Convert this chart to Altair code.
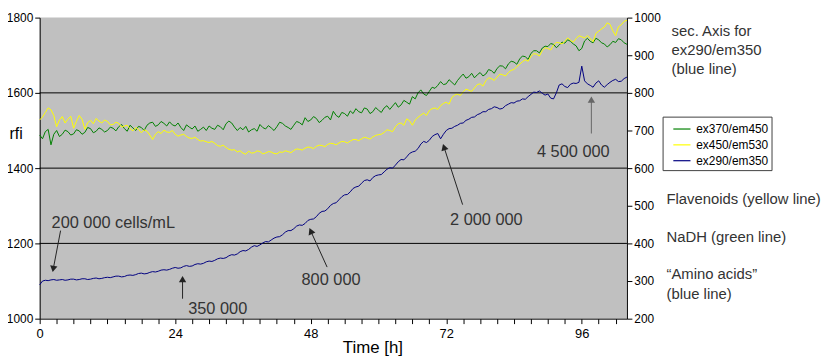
import altair as alt
import pandas as pd

# ---------------- data (sampled every half hour, 0 .. 104 h) ----------------
hours = [i / 2 for i in range(209)]

series_names = ["ex370/em450", "ex450/em530", "ex290/em350"]
series_colors = ["#008000", "#FFFF00", "#000080"]

green_vals = [
    1488, 1478, 1497, 1503, 1462, 1490, 1500, 1484, 1490, 1501,
    1497, 1488, 1491, 1502, 1499, 1490, 1495, 1508, 1505, 1494,
    1498, 1507, 1503, 1496, 1500, 1509, 1506, 1499, 1510, 1516,
    1505, 1498, 1514, 1507, 1500, 1511, 1508, 1500, 1514, 1520,
    1522, 1511, 1515, 1524, 1519, 1512, 1523, 1515, 1512, 1520,
    1508, 1500, 1515, 1509, 1504, 1512, 1498, 1503, 1509, 1500,
    1512, 1506, 1503, 1514, 1510, 1502, 1518, 1525, 1520, 1509,
    1500, 1508, 1502, 1511, 1496, 1502, 1505, 1498, 1516, 1508,
    1504, 1513, 1507, 1500, 1510, 1522, 1519, 1512, 1508, 1503,
    1514, 1524, 1521, 1515, 1534, 1524, 1528, 1537, 1532, 1521,
    1527, 1535, 1538, 1528, 1551, 1540, 1535, 1548, 1545, 1538,
    1552, 1545, 1558, 1550, 1547, 1560, 1557, 1545, 1550, 1561,
    1554, 1548, 1560, 1566, 1556, 1565, 1574, 1562, 1568, 1580,
    1575, 1570, 1590, 1584, 1600, 1608, 1597, 1593, 1604, 1615,
    1612, 1620, 1630, 1622, 1624, 1635, 1628, 1621, 1633, 1642,
    1650, 1639, 1643, 1652, 1640, 1648, 1654, 1645, 1650, 1662,
    1659, 1652, 1665, 1672, 1671, 1664, 1677, 1684, 1682, 1676,
    1690, 1698, 1696, 1689, 1705, 1712, 1712, 1706, 1719, 1724,
    1723, 1731, 1729, 1720, 1727, 1735, 1732, 1741, 1737, 1730,
    1725, 1712, 1718, 1738, 1745, 1737, 1733, 1745, 1741, 1733,
    1730, 1722, 1728, 1737, 1734, 1744, 1741, 1733, 1729]

yellow_vals = [
    1528, 1536, 1548, 1560, 1555, 1540, 1510, 1528, 1537, 1520,
    1530, 1538, 1506, 1524, 1540, 1530, 1503, 1521, 1527, 1518,
    1532, 1525, 1520, 1528, 1524, 1515, 1516, 1522, 1519, 1509,
    1512, 1514, 1505, 1499, 1508, 1503, 1494, 1502, 1498, 1488,
    1476, 1490, 1497, 1492, 1501, 1496, 1495, 1500, 1490, 1485,
    1488, 1490, 1484, 1480, 1479, 1482, 1476, 1472, 1473, 1470,
    1468, 1471, 1466, 1460, 1458, 1461, 1455, 1450, 1448, 1449,
    1443, 1446, 1440, 1437, 1445, 1440, 1441, 1446, 1444, 1438,
    1440, 1444, 1443, 1439, 1438, 1443, 1442, 1446, 1444, 1441,
    1447, 1451, 1450, 1448, 1453, 1456, 1455, 1452, 1458, 1461,
    1460, 1457, 1463, 1466, 1465, 1462, 1467, 1471, 1470, 1467,
    1472, 1476, 1476, 1473, 1478, 1482, 1480, 1477, 1483, 1487,
    1489, 1490, 1495, 1502, 1500, 1497, 1510, 1518, 1520, 1514,
    1531, 1526, 1514, 1528, 1535, 1541, 1546, 1540, 1553, 1558,
    1560, 1556, 1566, 1572, 1575, 1570, 1588, 1594, 1597, 1593,
    1603, 1610, 1607, 1604, 1613, 1622, 1624, 1618, 1632, 1640,
    1638, 1633, 1642, 1650, 1648, 1645, 1654, 1660, 1662, 1670,
    1676, 1683, 1688, 1684, 1697, 1704, 1703, 1698, 1712, 1720,
    1718, 1714, 1727, 1734, 1733, 1730, 1737, 1746, 1740, 1735,
    1744, 1752, 1749, 1746, 1752, 1745, 1736, 1758, 1764, 1770,
    1775, 1786, 1782, 1765, 1752, 1776, 1781, 1790, 1793]

blue_vals = [
    290, 300, 302, 301, 303, 304, 302, 303, 304, 302,
    303, 305, 305, 303, 304, 306, 306, 304, 305, 307,
    308, 306, 307, 309, 310, 309, 311, 313, 313, 311,
    312, 315, 316, 315, 317, 320, 321, 319, 320, 323,
    325, 324, 326, 329, 330, 329, 331, 334, 336, 334,
    335, 339, 341, 339, 340, 344, 346, 345, 347, 351,
    353, 352, 355, 359, 361, 360, 362, 367, 370, 369,
    372, 378, 381, 380, 384, 390, 394, 392, 396, 401,
    405, 404, 409, 414, 417, 418, 423, 430, 434, 434,
    439, 446, 449, 448, 453, 461, 464, 465, 471, 480,
    485, 486, 492, 501, 506, 508, 516, 524, 529, 530,
    537, 546, 550, 552, 560, 567, 569, 566, 575, 580,
    582, 583, 590, 597, 601, 600, 608, 617, 623, 622,
    630, 639, 643, 645, 652, 664, 671, 668, 674, 684,
    689, 692, 678, 690, 700, 705, 706, 711, 714, 719,
    720, 727, 730, 735, 736, 742, 745, 750, 750, 756,
    758, 763, 761, 757, 759, 766, 770, 774, 773, 778,
    779, 784, 783, 790, 796, 802, 801, 805, 799, 794,
    797, 786, 784, 800, 821, 824, 817, 814, 823, 826,
    825, 828, 871, 832, 824, 820, 815, 826, 832, 821,
    815, 822, 828, 833, 836, 830, 831, 838, 842]

grid_values = [1200, 1400, 1600]
left_ticks = [1000, 1200, 1400, 1600, 1800]
right_ticks = [200, 300, 400, 500, 600, 700, 800, 900, 1000]
x_ticks = list(range(0, 105, 3))

# annotations (data units: hours / left-axis rfi)
ann_text = ["200 000 cells/mL", "350 000", "800 000", "2 000 000", "4 500 000"]
ann_x = [2.1, 26.3, 51.6, 79.1, 94.5]
ann_y = [1255, 1026, 1103, 1263, 1442]
ann_align = ["left", "left", "center", "center", "center"]

arrow_x1 = [3.7, 25.3, 50.9, 74.9, 97.7]
arrow_y1 = [1234, 1053, 1137, 1303, 1492]
arrow_x2 = [2.4, 25.3, 48.0, 71.6, 97.7]
arrow_y2 = [1132, 1105, 1233, 1456, 1582]
arrow_angle = [190, 0, 336, 342, 0]
arrow_color = ["#222222", "#222222", "#222222", "#222222", "#666666"]

side_text = ["sec. Axis for", "ex290/em350", "(blue line)",
             "Flavenoids (yellow line)", "NaDH (green line)",
             "\u201cAmino acids\u201d", "(blue line)"]
side_x = [111.9, 111.9, 111.9, 111.0, 111.0, 111.0, 111.0]
side_y = [1763, 1713, 1663, 1318, 1218, 1118, 1066]

# ---------------- tables ----------------
left_df = pd.DataFrame({
    "hour": hours * 2,
    "value": green_vals + yellow_vals,
    "series": [series_names[0]] * len(hours) + [series_names[1]] * len(hours),
})
blue_df = pd.DataFrame({"hour": hours, "value": blue_vals,
                        "series": [series_names[2]] * len(hours)})
grid_df = pd.DataFrame({"v": grid_values})
ann_df = pd.DataFrame({"text": ann_text, "x": ann_x, "y": ann_y, "align": ann_align})
arrow_df = pd.DataFrame({"x1": arrow_x1, "y1": arrow_y1, "x2": arrow_x2,
                         "y2": arrow_y2, "angle": arrow_angle, "color": arrow_color})
side_df = pd.DataFrame({"text": side_text, "x": side_x, "y": side_y})

NARROW = "Liberation Sans Narrow, Liberation Sans, Arial"
FONT = "Liberation Sans, Arial"

x_scale = alt.Scale(domain=[0, 104], nice=False, zero=False)
y_left = alt.Scale(domain=[1000, 1800], nice=False, zero=False)
y_right = alt.Scale(domain=[200, 1000], nice=False, zero=False)
color_scale = alt.Scale(domain=series_names, range=series_colors)

# the same x axis definition is given to every layer so the shared axis merges cleanly
x_axis = alt.Axis(orient="bottom", values=x_ticks,
                  labelExpr="datum.value % 24 === 0 ? datum.label : ''",
                  grid=False, tickSize=5, tickColor="black", domainColor="black",
                  labelFont=NARROW, labelFontSize=13, labelColor="black",
                  labelPadding=4, labelFlush=False, labelOverlap=False,
                  title="Time [h]", titleFont=NARROW, titleFontSize=17,
                  titleFontWeight="normal", titleColor="black",
                  titleX=336, titleY=29, titleAlign="center", titleBaseline="middle")

left_axis = alt.Axis(orient="left", values=left_ticks, format="d", grid=False,
                     tickSize=5, tickColor="black",
                     domainColor="black", labelFont=NARROW, labelFontSize=12,
                     labelColor="black", labelPadding=2, labelFlush=False,
                     title="rfi", titleAngle=0, titleFont=FONT, titleFontSize=16,
                     titleFontWeight="normal", titleColor="black",
                     titleX=-31, titleY=117, titleAlign="left", titleBaseline="middle")

right_axis = alt.Axis(orient="right", values=right_ticks, format="d", grid=False,
                      tickSize=5, tickColor="black", domainColor="black",
                      labelFont=NARROW, labelFontSize=12, labelColor="black",
                      labelPadding=2, labelFlush=False, title=None)

legend = alt.Legend(title=None, orient="none", legendX=629, legendY=100,
                    fillColor="white", strokeColor="#404040", padding=3,
                    symbolOffset=7, symbolType="stroke", symbolSize=300,
                    symbolStrokeWidth=1.2, rowPadding=0, labelFont=FONT,
                    labelFontSize=12, labelColor="black", labelOffset=5)


def X(field):
    return alt.X(field, scale=x_scale, axis=x_axis)


grid = alt.Chart(grid_df).mark_rule(color="black", strokeWidth=1).encode(
    y=alt.Y("v:Q", scale=y_left, axis=None))

left_lines = alt.Chart(left_df).mark_line(strokeWidth=1).encode(
    x=X("hour:Q"),
    y=alt.Y("value:Q", scale=y_left, axis=left_axis),
    color=alt.Color("series:N", scale=color_scale, legend=legend),
    detail="series:N",
)

blue_line = alt.Chart(blue_df).mark_line(strokeWidth=1).encode(
    x=X("hour:Q"),
    y=alt.Y("value:Q", scale=y_right, axis=right_axis),
    color=alt.Color("series:N", scale=color_scale, legend=legend),
)

arrows = alt.Chart(arrow_df).mark_rule(strokeWidth=1).encode(
    x=X("x1:Q"), x2="x2:Q",
    y=alt.Y("y1:Q", scale=y_left, axis=None), y2="y2:Q",
    stroke=alt.Stroke("color:N", scale=None),
)
heads = alt.Chart(arrow_df).mark_point(shape="triangle-up", filled=True, size=55,
                                       opacity=1).encode(
    x=X("x2:Q"),
    y=alt.Y("y2:Q", scale=y_left, axis=None),
    angle=alt.Angle("angle:Q", scale=None),
    fill=alt.Fill("color:N", scale=None),
)
ann_left = alt.Chart(ann_df).transform_filter("datum.align == 'left'").mark_text(
    font=FONT, fontSize=16.5, color="#333333", baseline="middle", align="left").encode(
    x=X("x:Q"),
    y=alt.Y("y:Q", scale=y_left, axis=None),
    text="text:N",
)
ann_center = alt.Chart(ann_df).transform_filter("datum.align == 'center'").mark_text(
    font=FONT, fontSize=16.5, color="#333333", baseline="middle", align="center").encode(
    x=X("x:Q"),
    y=alt.Y("y:Q", scale=y_left, axis=None),
    text="text:N",
)
side = alt.Chart(side_df).mark_text(font=FONT, fontSize=15, color="#333333",
                                    align="left", baseline="middle").encode(
    x=X("x:Q"),
    y=alt.Y("y:Q", scale=y_left, axis=None),
    text="text:N",
)

chart = alt.layer(left_lines, grid, blue_line, arrows, heads, ann_left, ann_center,
                  side).resolve_scale(y="independent").properties(
    width=593, height=304,
    autosize=alt.AutoSizeParams(type="none"),
    padding={"left": 32, "top": 8, "right": 200, "bottom": 36},
    background="white",
).configure_view(fill="#C0C0C0", stroke="transparent", strokeWidth=0)

chart.save("out.html", embed_options={"renderer": "svg", "actions": False})
